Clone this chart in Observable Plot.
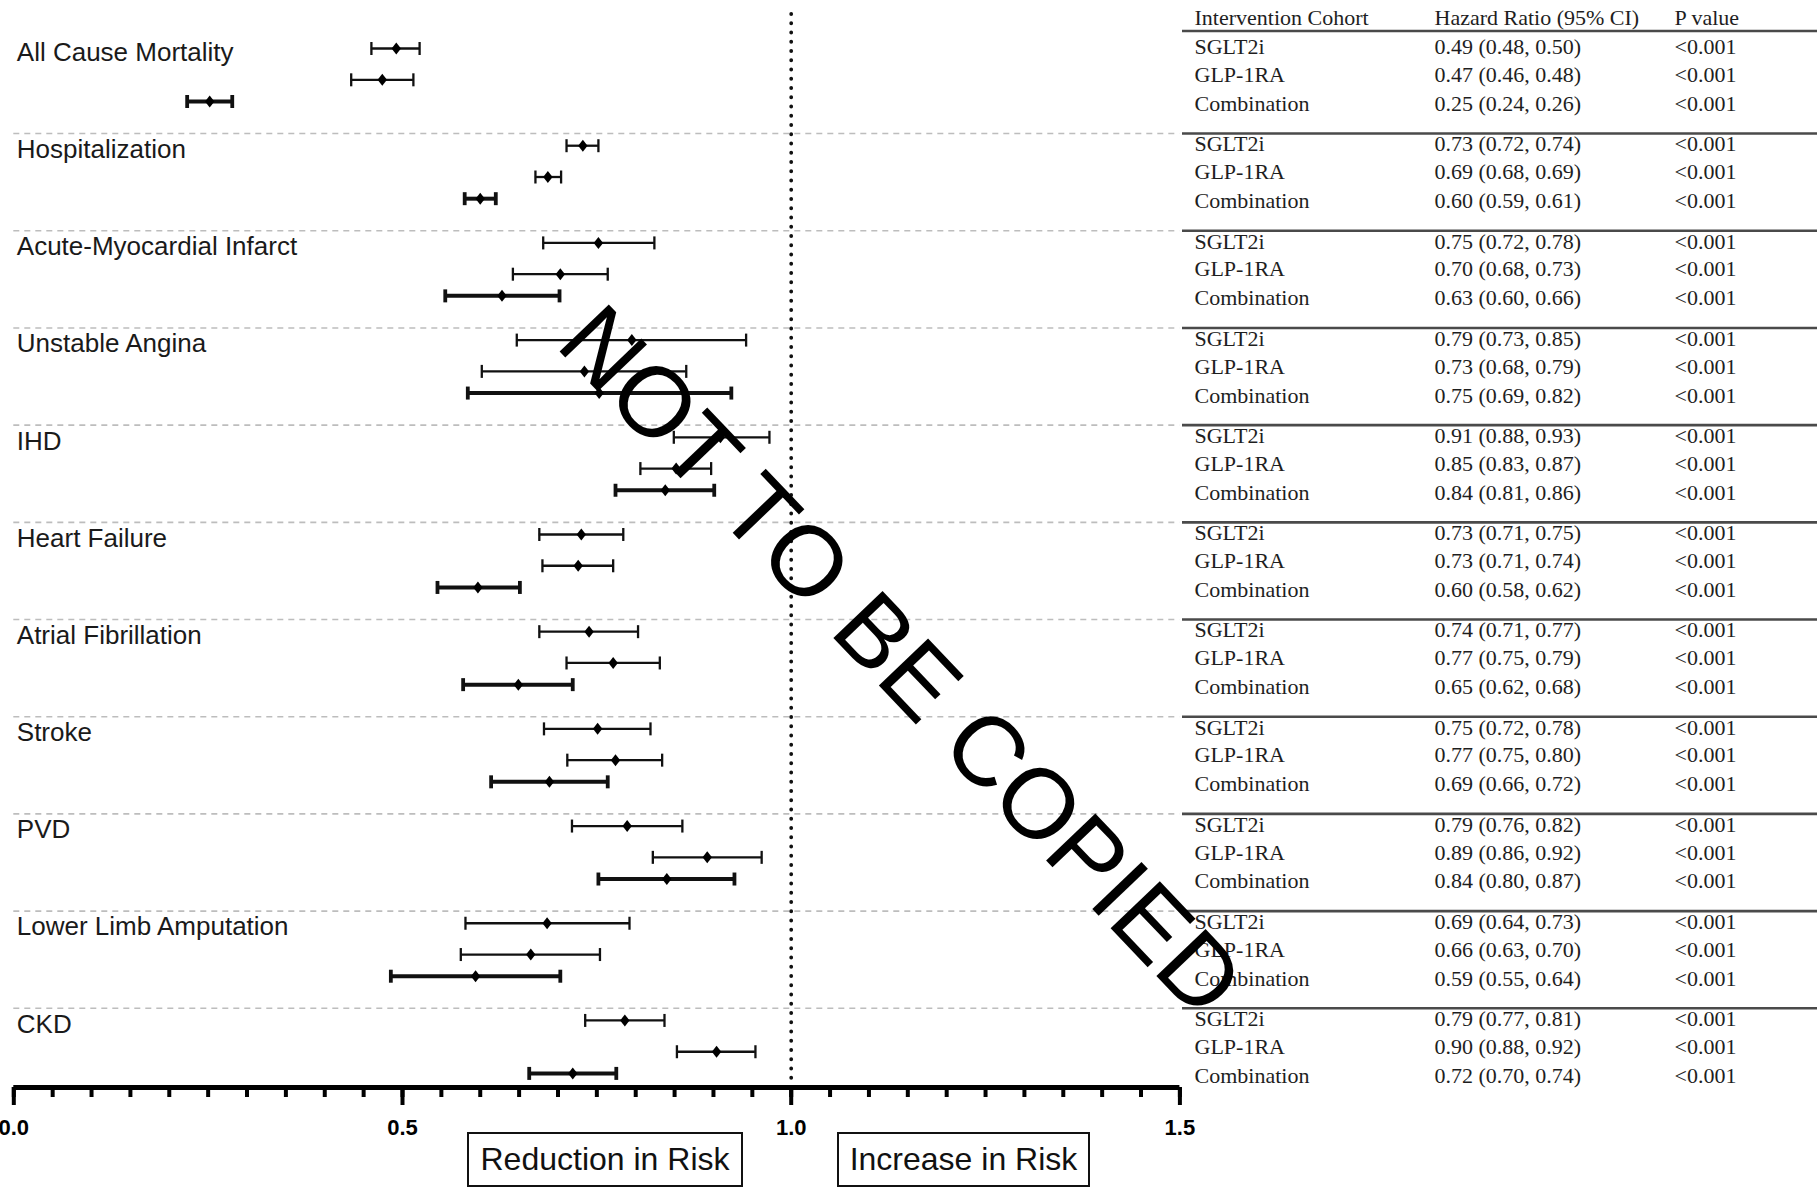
<!DOCTYPE html>
<html>
<head>
<meta charset="utf-8">
<script src="https://cdn.jsdelivr.net/npm/d3@7"></script>
<script src="https://cdn.jsdelivr.net/npm/@observablehq/plot@0.6"></script>
<style>
  html, body { margin: 0; padding: 0; background: #fff; }
  #wrap { position: relative; width: 1817px; height: 1189px; overflow: hidden; background: #fff; }
  #left { position: absolute; left: 0; top: 0; }
  #right { position: absolute; left: 1182px; top: 0; }
  .riskbox { position: absolute; top: 1132px; height: 51px; border: 2.5px solid #111; box-sizing: content-box;
    font-family: "Liberation Sans", Arial, sans-serif; font-size: 32px; color: #111;
    display: flex; align-items: center; justify-content: center; }
  #watermark { position: absolute; left: 902px; top: 660px; transform: translate(-50%, -50%) rotate(46.3deg);
    font-family: "Liberation Sans", Arial, sans-serif; font-size: 99px; line-height: 1; color: #000; white-space: nowrap; }
</style>
</head>
<body>
<div id="wrap">
  <div id="left"></div>
  <div id="right"></div>
  <div class="riskbox" style="left:467px; width:272px;">Reduction in Risk</div>
  <div class="riskbox" style="left:837px; width:249px;">Increase in Risk</div>
  <div id="watermark">NOT TO BE COPIED</div>
</div>
<script>
// ---------- data ----------
const outcomes = ["All Cause Mortality", "Hospitalization", "Acute-Myocardial Infarct", "Unstable Angina", "IHD",
  "Heart Failure", "Atrial Fibrillation", "Stroke", "PVD", "Lower Limb Amputation", "CKD"];
const cohorts = ["SGLT2i", "GLP-1RA", "Combination"];

// plotted hazard ratio estimates (read from the drawn markers)
const hrPlotted = [
  [0.492, 0.474, 0.252], [0.732, 0.687, 0.600], [0.752, 0.703, 0.628], [0.795, 0.734, 0.753],
  [0.909, 0.852, 0.838], [0.730, 0.726, 0.597], [0.740, 0.771, 0.649], [0.751, 0.774, 0.689],
  [0.789, 0.892, 0.840], [0.686, 0.665, 0.594], [0.786, 0.904, 0.719]
];
const ciLower = [
  [0.460, 0.434, 0.223], [0.711, 0.671, 0.580], [0.681, 0.642, 0.555], [0.647, 0.602, 0.584],
  [0.849, 0.806, 0.774], [0.676, 0.680, 0.545], [0.676, 0.711, 0.578], [0.682, 0.712, 0.614],
  [0.718, 0.822, 0.752], [0.581, 0.575, 0.485], [0.735, 0.853, 0.663]
];
const ciUpper = [
  [0.522, 0.514, 0.281], [0.752, 0.704, 0.620], [0.824, 0.764, 0.702], [0.942, 0.865, 0.923],
  [0.972, 0.897, 0.901], [0.784, 0.771, 0.651], [0.803, 0.831, 0.719], [0.819, 0.834, 0.764],
  [0.860, 0.962, 0.927], [0.792, 0.754, 0.703], [0.837, 0.954, 0.775]
];
// table text
const hrText = [
  ["0.49 (0.48, 0.50)", "0.47 (0.46, 0.48)", "0.25 (0.24, 0.26)"],
  ["0.73 (0.72, 0.74)", "0.69 (0.68, 0.69)", "0.60 (0.59, 0.61)"],
  ["0.75 (0.72, 0.78)", "0.70 (0.68, 0.73)", "0.63 (0.60, 0.66)"],
  ["0.79 (0.73, 0.85)", "0.73 (0.68, 0.79)", "0.75 (0.69, 0.82)"],
  ["0.91 (0.88, 0.93)", "0.85 (0.83, 0.87)", "0.84 (0.81, 0.86)"],
  ["0.73 (0.71, 0.75)", "0.73 (0.71, 0.74)", "0.60 (0.58, 0.62)"],
  ["0.74 (0.71, 0.77)", "0.77 (0.75, 0.79)", "0.65 (0.62, 0.68)"],
  ["0.75 (0.72, 0.78)", "0.77 (0.75, 0.80)", "0.69 (0.66, 0.72)"],
  ["0.79 (0.76, 0.82)", "0.89 (0.86, 0.92)", "0.84 (0.80, 0.87)"],
  ["0.69 (0.64, 0.73)", "0.66 (0.63, 0.70)", "0.59 (0.55, 0.64)"],
  ["0.79 (0.77, 0.81)", "0.90 (0.88, 0.92)", "0.72 (0.70, 0.74)"]
];
const pText = outcomes.map(() => ["<0.001", "<0.001", "<0.001"]);
const tableHeader = ["Intervention Cohort", "Hazard Ratio (95% CI)", "P value"];
const majorTicks = [0, 0.5, 1.0, 1.5];
const minorTicks = d3.range(0, 31).map(i => i * 0.05);

// ---------- layout (in group units along y) ----------
const Y_TOP = -0.35, Y_BOT = 10.69;
const PLOT_OFF = [0, 0.322, 0.545];
const TABLE_OFF = [-0.013, 0.273, 0.57];
const LABEL_OFF = 0.04;
const SEP_OFF = 0.875;
const HEADER_Y = -0.315, HEADER_LINE_Y = -0.18;

const rows = outcomes.flatMap((o, g) => cohorts.map((c, k) => ({
  outcome: o, g, k, cohort: c,
  hr: hrPlotted[g][k], lo: ciLower[g][k], hi: ciUpper[g][k],
  hrText: hrText[g][k], p: pText[g][k],
  yp: g + PLOT_OFF[k], yt: g + TABLE_OFF[k]
})));
const seps = d3.range(outcomes.length - 1).map(g => g + SEP_OFF);
const thin = rows.filter(d => d.cohort !== "Combination");
const thick = rows.filter(d => d.cohort === "Combination");

const capSymbol = { draw(ctx) { ctx.moveTo(0, -6.5); ctx.lineTo(0, 6.5); } };
const diamondSymbol = { draw(ctx) { ctx.moveTo(0, -6); ctx.lineTo(4.7, 0); ctx.lineTo(0, 6); ctx.lineTo(-4.7, 0); ctx.closePath(); } };

const yScale = { domain: [Y_TOP, Y_BOT], reverse: true, axis: null };

const left = Plot.plot({
  width: 1190, height: 1189,
  marginLeft: 13.3, marginRight: 10.6, marginTop: 14, marginBottom: 102,
  x: { domain: [0, 1.5], label: null },
  y: yScale,
  style: { fontFamily: "'Liberation Sans', Arial, sans-serif", background: "transparent", overflow: "visible", color: "#111" },
  marks: [
    Plot.ruleY(seps, { stroke: "#bdbdbd", strokeWidth: 1.6, strokeDasharray: "6,5" }),
    Plot.ruleX([1], { stroke: "#111", strokeWidth: 3.8, strokeDasharray: "0,9.25", strokeLinecap: "round" }),
    Plot.text(outcomes, { x: () => 0, y: (d, i) => i + LABEL_OFF, text: d => d, textAnchor: "start", dx: 3, fontSize: 26, fill: "#1a1a1a" }),
    Plot.ruleY(thin, { y: "yp", x1: "lo", x2: "hi", stroke: "#111", strokeWidth: 2.3 }),
    Plot.ruleY(thick, { y: "yp", x1: "lo", x2: "hi", stroke: "#111", strokeWidth: 4 }),
    Plot.dot(thin, { x: "lo", y: "yp", symbol: capSymbol, fill: "none", stroke: "#111", strokeWidth: 2.3 }),
    Plot.dot(thin, { x: "hi", y: "yp", symbol: capSymbol, fill: "none", stroke: "#111", strokeWidth: 2.3 }),
    Plot.dot(thick, { x: "lo", y: "yp", symbol: capSymbol, fill: "none", stroke: "#111", strokeWidth: 3.8 }),
    Plot.dot(thick, { x: "hi", y: "yp", symbol: capSymbol, fill: "none", stroke: "#111", strokeWidth: 3.8 }),
    Plot.dot(rows, { x: "hr", y: "yp", symbol: diamondSymbol, fill: "#000", stroke: "none" }),
    Plot.ruleY([Y_BOT], { stroke: "#000", strokeWidth: 5 }),
    Plot.axisX(minorTicks, { tickSize: 10, strokeWidth: 4, stroke: "#000", tickFormat: () => "", label: null }),
    Plot.axisX(majorTicks, { tickSize: 18, tickPadding: 14, strokeWidth: 4, stroke: "#000", fill: "#000",
      fontSize: 22, fontWeight: "bold", tickFormat: d3.format(".1f"), label: null })
  ]
});
document.getElementById("left").appendChild(left);

const tableText = (col, field) => Plot.text(rows, {
  x: () => col, y: "yt", text: field, textAnchor: "start", fontSize: 22, fill: "#1e1e1e"
});

const right = Plot.plot({
  width: 635, height: 1189,
  marginLeft: 0, marginRight: 0, marginTop: 14, marginBottom: 102,
  x: { type: "point", domain: tableHeader, range: [12, 492], padding: 0, axis: null },
  y: yScale,
  style: { fontFamily: "'Liberation Serif', 'Times New Roman', serif", background: "transparent", overflow: "visible" },
  marks: [
    Plot.ruleY([HEADER_LINE_Y], { stroke: "#4a4a4a", strokeWidth: 2.6 }),
    Plot.ruleY(seps, { stroke: "#4a4a4a", strokeWidth: 2.6 }),
    Plot.text(tableHeader, { x: d => d, y: () => HEADER_Y, text: d => d, textAnchor: "start", fontSize: 22, fill: "#1e1e1e" }),
    tableText(tableHeader[0], "cohort"),
    tableText(tableHeader[1], "hrText"),
    tableText(tableHeader[2], "p")
  ]
});
document.getElementById("right").appendChild(right);
</script>
</body>
</html>
